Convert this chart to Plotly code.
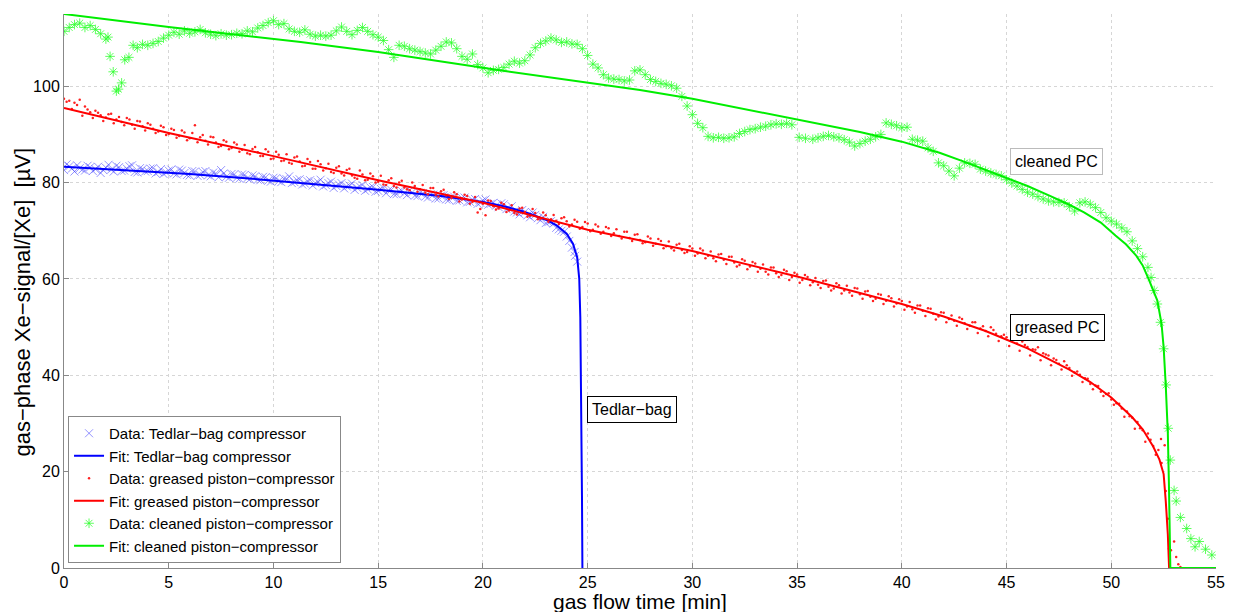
import plotly.graph_objects as go

# ---------------- data ----------------
tedlar_t = [0, 0.25, 0.5, 0.75, 1.0, 1.25, 1.5, 1.75, 2.0, 2.25, 2.5, 2.75, 3.0, 3.25, 3.5, 3.75,
            4.0, 4.25, 4.5, 4.75, 5.0, 5.25, 5.5, 5.75, 6.0, 6.25, 6.5, 6.75, 7.0, 7.25, 7.5, 7.75,
            8.0, 8.25, 8.5, 8.75, 9.0, 9.25, 9.5, 9.75, 10.0, 10.25, 10.5, 10.75, 11.0, 11.25, 11.5, 11.75,
            12.0, 12.25, 12.5, 12.75, 13.0, 13.25, 13.5, 13.75, 14.0, 14.25, 14.5, 14.75, 15.0, 15.25, 15.5, 15.75,
            16.0, 16.25, 16.5, 16.75, 17.0, 17.25, 17.5, 17.75, 18.0, 18.25, 18.5, 18.75, 19.0, 19.25, 19.5, 19.75,
            20.0, 20.25, 20.5, 20.75, 21.0, 21.25, 21.5, 21.75, 22.0, 22.25, 22.5, 22.75, 23.0, 23.25, 23.5, 23.75,
            24.0, 24.25, 24.4, 24.5]
tedlar_v = [82.6, 83.4, 82.3, 83.0, 82.5, 83.2, 82.8, 82.0, 83.1, 82.7, 83.5, 82.4, 82.9, 83.6, 82.1, 82.8,
            82.4, 83.0, 82.2, 81.8, 82.5, 81.9, 82.7, 82.0, 81.5, 82.3, 81.6, 82.4, 81.3, 81.9, 82.6, 81.2,
            81.8, 81.0, 81.7, 80.9, 81.5, 80.6, 81.2, 80.4, 81.0, 80.3, 80.8, 81.3, 80.1, 80.7, 79.8, 80.5,
            79.9, 80.6, 79.5, 80.2, 79.3, 79.9, 79.2, 79.8, 78.9, 79.5, 78.6, 79.1, 78.3, 78.9, 78.4, 77.6,
            78.2, 77.8, 78.4, 77.3, 77.9, 77.1, 77.6, 76.7, 77.3, 76.5, 77.0, 76.2, 76.8, 75.9, 76.4, 75.6,
            76.3, 75.4, 75.8, 74.9, 75.5, 74.6, 74.0, 73.4, 73.9, 72.8, 73.3, 72.2, 71.6, 72.0, 70.6, 70.0,
            68.8, 66.5, 64.8, 63.6]
tedlar_t_b = [0.125, 0.375, 0.625, 0.875, 1.125, 1.375, 1.625, 1.875, 2.125, 2.375, 2.625, 2.875, 3.125,
              3.375, 3.625, 3.875, 4.125, 4.375, 4.625, 4.875, 5.125, 5.375, 5.625, 5.875, 6.125, 6.375,
              6.625, 6.875, 7.125, 7.375, 7.625, 7.875, 8.125, 8.375, 8.625, 8.875, 9.125, 9.375, 9.625,
              9.875, 10.125, 10.375, 10.625, 10.875, 11.125, 11.375, 11.625, 11.875, 12.125, 12.375, 12.625,
              12.875, 13.125, 13.375, 13.625, 13.875, 14.125, 14.375, 14.625, 14.875, 15.125, 15.375, 15.625,
              15.875, 16.125, 16.375, 16.625, 16.875, 17.125, 17.375, 17.625, 17.875, 18.125, 18.375, 18.625,
              18.875, 19.125, 19.375, 19.625, 19.875, 20.125, 20.375, 20.625, 20.875, 21.125, 21.375, 21.625,
              21.875, 22.125, 22.375, 22.625, 22.875, 23.125, 23.375, 23.625, 23.875, 24.125, 24.375]
tedlar_v_b = [83.8, 82.9, 83.6, 82.7, 83.5, 82.4, 83.3, 82.6, 83.7, 82.3, 83.2, 82.5, 83.4, 82.2, 83.0, 82.3,
              82.9, 81.9, 82.8, 82.1, 82.7, 81.7, 82.5, 81.6, 82.4, 81.4, 82.2, 81.5, 82.1, 81.1, 81.9, 81.0,
              81.7, 80.8, 81.6, 80.7, 81.3, 80.5, 81.1, 80.2, 80.9, 80.1, 80.7, 79.9, 80.5, 79.6, 80.3, 79.4,
              80.1, 79.2, 79.9, 78.9, 79.6, 78.8, 79.4, 78.5, 79.2, 78.3, 79.0, 78.1, 78.7, 77.8, 78.5, 77.6,
              78.3, 77.4, 78.0, 77.2, 77.8, 76.9, 77.5, 76.7, 77.4, 76.4, 77.1, 76.3, 76.9, 76.0, 76.6, 75.8,
              76.5, 75.6, 75.2, 75.7, 74.5, 75.1, 73.8, 74.3, 73.2, 73.8, 72.6, 72.9, 71.8, 71.5, 70.3, 69.8,
              67.9, 65.6]

tedlar_fit_t = [0, 3, 6, 9, 12, 15, 18, 20, 21, 22, 23, 23.5, 24, 24.3, 24.5, 24.6, 24.65, 24.7, 24.73, 24.75]
tedlar_fit_v = [83.3, 82.6, 81.8, 80.8, 79.7, 78.5, 77.2, 76.0, 75.1, 73.9, 72.3, 71.2, 69.4, 67.3, 64.5,
                60.0, 52.0, 35.0, 15.0, 0.0]

greased_t = [0, 0.25, 0.5, 0.75, 1, 1.25, 1.5, 1.75, 2, 2.25, 2.5, 2.75, 3, 3.25, 3.5, 3.75, 4, 4.25, 4.5, 4.75,
             5, 5.25, 5.5, 5.75, 6, 6.25, 6.5, 6.75, 7, 7.25, 7.5, 7.75, 8, 8.25, 8.5, 8.75, 9, 9.25, 9.5, 9.75,
             10, 10.25, 10.5, 10.75, 11, 11.25, 11.5, 11.75, 12, 12.25, 12.5, 12.75, 13, 13.25, 13.5, 13.75,
             14, 14.25, 14.5, 14.75, 15, 15.25, 15.5, 15.75, 16, 16.25, 16.5, 16.75, 17, 17.25, 17.5, 17.75,
             18, 18.25, 18.5, 18.75, 19, 19.25, 19.5, 19.75, 20, 20.25, 20.5, 20.75, 21, 21.25, 21.5, 21.75,
             22, 22.25, 22.5, 22.75, 23, 23.25, 23.5, 23.75, 24, 24.25, 24.5, 24.75, 25, 25.25, 25.5, 25.75,
             26, 26.25, 26.5, 26.75, 27, 27.25, 27.5, 27.75, 28, 28.25, 28.5, 28.75, 29, 29.25, 29.5, 29.75,
             30, 30.25, 30.5, 30.75, 31, 31.25, 31.5, 31.75, 32, 32.25, 32.5, 32.75, 33, 33.25, 33.5, 33.75,
             34, 34.25, 34.5, 34.75, 35, 35.25, 35.5, 35.75, 36, 36.25, 36.5, 36.75, 37, 37.25, 37.5, 37.75,
             38, 38.25, 38.5, 38.75, 39, 39.25, 39.5, 39.75, 40, 40.25, 40.5, 40.75, 41, 41.25, 41.5, 41.75,
             42, 42.25, 42.5, 42.75, 43, 43.25, 43.5, 43.75, 44, 44.25, 44.5, 44.75, 45, 45.25, 45.5, 45.75,
             46, 46.25, 46.5, 46.75, 47, 47.25, 47.5, 47.75, 48, 48.25, 48.5, 48.75, 49, 49.25, 49.5, 49.75,
             50, 50.25, 50.5, 50.75, 51, 51.25, 51.5, 51.75, 52, 52.25, 52.4, 52.55, 52.6, 52.7, 52.75, 52.85,
             53.0, 53.1, 53.2, 53.3]
greased_v = [97.4, 97.0, 96.6, 97.2, 95.8, 94.6, 94.9, 94.0, 93.5, 94.3, 93.1, 92.6, 93.4, 92.0, 92.8, 91.7,
             92.3, 91.2, 90.6, 91.5, 90.1, 90.9, 89.7, 90.4, 89.2, 91.9, 89.4, 88.7, 89.5, 88.3, 87.6, 88.5,
             87.2, 87.9, 86.8, 86.1, 87.0, 86.3, 85.5, 86.4, 85.0, 85.8, 84.6, 84.1, 85.2, 84.4, 83.5, 84.3,
             82.9, 83.8, 83.0, 82.2, 83.1, 81.9, 82.6, 81.5, 80.8, 81.7, 80.6, 81.3, 80.2, 79.6, 80.5, 79.3,
             80.0, 79.0, 78.4, 79.3, 78.6, 77.9, 78.9, 77.5, 78.2, 77.3, 76.8, 77.6, 76.5, 77.2, 76.0, 73.8,
             75.6, 76.3, 75.1, 74.6, 75.5, 74.2, 73.7, 74.6, 73.9, 73.1, 73.7, 72.5, 73.2, 72.4, 72.1, 72.6,
             72.0, 71.3, 71.9, 70.8, 71.5, 70.2, 70.9, 69.8, 70.5, 69.5, 68.9, 69.8, 68.5, 69.2, 68.1, 67.6,
             68.4, 67.3, 67.9, 66.8, 66.4, 67.1, 66.0, 65.6, 66.3, 65.3, 65.9, 64.8, 64.3, 65.1, 64.0, 64.6,
             63.4, 62.9, 63.8, 62.6, 63.2, 62.1, 61.5, 62.4, 61.2, 60.8, 61.6, 60.4, 60.9, 59.8, 60.4, 59.3,
             58.8, 59.6, 58.4, 58.0, 58.7, 57.6, 57.2, 58.1, 56.8, 57.4, 56.3, 55.9, 56.7, 55.5, 56.0, 54.9,
             55.4, 54.3, 53.7, 54.5, 53.4, 53.9, 52.8, 52.2, 53.0, 51.7, 51.3, 52.0, 50.8, 50.3, 51.0, 49.7,
             49.2, 50.0, 48.6, 48.1, 47.9, 47.5, 46.6, 47.0, 45.9, 45.4, 45.8, 44.6, 44.1, 43.5, 42.4, 42.9,
             41.5, 40.6, 40.1, 39.4, 38.2, 37.9, 36.6, 36.1, 35.0, 34.2, 33.1, 32.5, 31.2, 30.3, 28.6, 27.9,
             25.3, 24.5, 21.8, 25.5, 16.0, 10.2, 4.0, 3.7, 5.5, 2.3, 0.8, 0.2]
greased_t_b = [0.125, 0.375, 0.625, 0.875, 1.125, 1.375, 1.625, 1.875, 2.125, 2.375, 2.625, 2.875, 3.125,
               3.375, 3.625, 3.875, 4.125, 4.375, 4.625, 4.875, 5.125, 5.375, 5.625, 5.875, 6.125, 6.375,
               6.625, 6.875, 7.125, 7.375, 7.625, 7.875, 8.125, 8.375, 8.625, 8.875, 9.125, 9.375, 9.625,
               9.875, 10.125, 10.375, 10.625, 10.875, 11.125, 11.375, 11.625, 11.875, 12.125, 12.375, 12.625,
               12.875, 13.125, 13.375, 13.625, 13.875, 14.125, 14.375, 14.625, 14.875, 15.125, 15.375, 15.625,
               15.875, 16.125, 16.375, 16.625, 16.875, 17.125, 17.375, 17.625, 17.875, 18.125, 18.375, 18.625,
               18.875, 19.125, 19.375, 19.625, 19.875, 20.125, 20.375, 20.625, 20.875, 21.125, 21.375, 21.625,
               21.875, 22.125, 22.375, 22.625, 22.875, 23.125, 23.375, 23.625, 23.875, 24.125, 24.375, 24.625,
               24.875, 25.125, 25.375, 25.625, 25.875, 26.125, 26.375, 26.625, 26.875, 27.125, 27.375, 27.625,
               27.875, 28.125, 28.375, 28.625, 28.875, 29.125, 29.375, 29.625, 29.875, 30.125, 30.375, 30.625,
               30.875, 31.125, 31.375, 31.625, 31.875, 32.125, 32.375, 32.625, 32.875, 33.125, 33.375, 33.625,
               33.875, 34.125, 34.375, 34.625, 34.875, 35.125, 35.375, 35.625, 35.875, 36.125, 36.375, 36.625,
               36.875, 37.125, 37.375, 37.625, 37.875, 38.125, 38.375, 38.625, 38.875, 39.125, 39.375, 39.625,
               39.875, 40.125, 40.375, 40.625, 40.875, 41.125, 41.375, 41.625, 41.875, 42.125, 42.375, 42.625,
               42.875, 43.125, 43.375, 43.625, 43.875, 44.125, 44.375, 44.625, 44.875, 45.125, 45.375, 45.625,
               45.875, 46.125, 46.375, 46.625, 46.875, 47.125, 47.375, 47.625, 47.875, 48.125, 48.375, 48.625,
               48.875, 49.125, 49.375, 49.625, 49.875, 50.125, 50.375, 50.625, 50.875, 51.125, 51.375, 51.625,
               51.875, 52.125, 52.375]
greased_v_b = [96.8, 95.3, 96.1, 93.9, 95.2, 93.4, 94.5, 92.8, 94.2, 92.3, 93.6, 91.9, 93.1, 91.2, 92.7, 90.8,
               92.0, 90.3, 91.8, 89.9, 91.2, 89.3, 90.8, 88.8, 90.3, 88.4, 89.9, 87.9, 89.4, 87.4, 88.8, 86.9,
               88.3, 86.4, 87.8, 85.9, 87.4, 85.5, 86.9, 84.9, 86.4, 84.5, 85.9, 83.9, 85.4, 83.4, 84.9, 82.9,
               84.5, 82.5, 83.9, 82.0, 83.4, 81.5, 82.9, 81.0, 82.5, 80.5, 81.9, 80.0, 81.4, 79.5, 80.9, 79.0,
               80.4, 78.6, 80.0, 78.1, 79.5, 77.6, 78.9, 77.1, 78.5, 76.6, 78.0, 76.1, 77.5, 75.6, 77.0, 74.5,
               73.2, 76.2, 74.4, 75.8, 73.9, 75.3, 73.4, 74.8, 72.9, 74.5, 72.4, 73.8, 71.9, 73.3, 71.4, 72.8,
               70.9, 72.3, 70.4, 71.8, 69.9, 71.3, 69.4, 70.8, 68.9, 70.3, 68.4, 69.8, 67.9, 69.3, 67.4, 68.8,
               66.9, 68.3, 66.4, 67.8, 65.9, 67.3, 65.4, 66.8, 64.8, 66.3, 64.3, 65.7, 63.7, 65.2, 63.1, 64.6,
               62.6, 64.1, 62.0, 63.5, 61.5, 63.0, 60.9, 62.4, 60.4, 61.9, 59.8, 61.3, 59.2, 60.8, 58.7, 60.2,
               58.1, 59.7, 57.6, 59.1, 57.0, 58.6, 56.5, 58.0, 55.9, 57.5, 55.4, 56.9, 54.8, 56.4, 54.3, 55.8,
               53.6, 55.2, 53.0, 54.5, 52.3, 53.8, 51.6, 53.1, 51.0, 52.4, 50.3, 51.7, 49.6, 51.0, 48.8, 50.2,
               48.1, 49.4, 47.1, 48.4, 46.1, 47.4, 45.1, 46.3, 44.1, 45.3, 43.1, 44.3, 42.1, 43.2, 41.2, 42.1,
               39.9, 40.8, 38.6, 39.3, 37.1, 37.8, 35.7, 36.3, 33.9, 34.1, 31.4, 31.5, 28.9, 29.0, 26.2, 26.6,
               23.5, 26.8]

greased_fit_t = [0, 5, 10, 15, 20, 25, 30, 35, 40, 42, 44, 46, 48, 49, 50, 51, 51.5, 52, 52.3, 52.5, 52.6,
                 52.7, 52.76]
greased_fit_v = [95.5, 90.3, 85.5, 80.5, 75.8, 70.2, 65.8, 60.5, 54.8, 52.2, 49.2, 45.6, 41.2, 38.6, 35.4,
                 31.3, 28.8, 25.2, 22.5, 19.5, 14.0, 7.0, 0.0]

cleaned_t = [0, 0.25, 0.5, 0.75, 1.0, 1.25, 1.5, 1.75, 2.0, 2.1, 2.2, 2.35, 2.5, 2.6, 2.75, 2.9, 3.1, 3.3,
             3.5, 3.75, 4.0, 4.25, 4.5, 4.75, 5.0, 5.25, 5.5, 5.75, 6.0, 6.25, 6.5, 6.75, 7.0, 7.25, 7.5, 7.75,
             8.0, 8.25, 8.5, 8.75, 9.0, 9.25, 9.5, 9.75, 10.0, 10.25, 10.5, 10.75, 11.0, 11.25, 11.5, 11.75,
             12.0, 12.25, 12.5, 12.75, 13.0, 13.25, 13.5, 13.75, 14.0, 14.25, 14.5, 14.75, 15.0, 15.25, 15.5,
             15.75, 16.0, 16.25, 16.5, 16.75, 17.0, 17.25, 17.5, 17.75, 18.0, 18.25, 18.5, 18.75, 19.0, 19.25,
             19.5, 19.75, 20.0, 20.25, 20.5, 20.75, 21.0, 21.25, 21.5, 21.75, 22.0, 22.25, 22.5, 22.75, 23.0,
             23.25, 23.5, 23.75, 24.0, 24.25, 24.5, 24.75, 25.0, 25.25, 25.5, 25.75, 26.0, 26.25, 26.5, 26.75,
             27.0, 27.25, 27.5, 27.75, 28.0, 28.25, 28.5, 28.75, 29.0, 29.25, 29.5, 29.75, 30.0, 30.25, 30.5,
             30.75, 31.0, 31.25, 31.5, 31.75, 32.0, 32.25, 32.5, 32.75, 33.0, 33.25, 33.5, 33.75, 34.0, 34.25,
             34.5, 34.75, 35.1, 35.4, 35.75, 36.0, 36.25, 36.5, 36.75, 37.0, 37.25, 37.5, 37.75, 38.0, 38.25,
             38.5, 38.75, 39.0, 39.25, 39.5, 39.75, 40.0, 40.25, 40.5, 40.75, 41.0, 41.25, 41.5, 41.75, 42.0,
             42.25, 42.5, 42.75, 43.0, 43.25, 43.5, 43.75, 44.0, 44.25, 44.5, 44.75, 45.0, 45.25, 45.5, 45.75,
             46.0, 46.25, 46.5, 46.75, 47.0, 47.25, 47.5, 47.75, 48.0, 48.25, 48.5, 48.75, 49.0, 49.25, 49.5,
             49.75, 50.0, 50.25, 50.5, 50.75, 51.0, 51.25, 51.5, 51.75, 51.9, 52.05, 52.2, 52.35, 52.5, 52.62,
             52.72, 52.82, 53.0, 53.1, 53.3, 53.6, 53.8, 54.0, 54.2, 54.5, 54.8]
cleaned_v = [111.4, 112.2, 112.8, 113.1, 112.2, 112.6, 111.8, 110.9, 109.8, 110.2, 106.2, 103.0, 99.0, 99.4,
             100.7, 105.5, 106.0, 108.5, 108.0, 108.7, 108.5, 108.9, 109.3, 110.0, 110.6, 111.2, 110.8, 111.5,
             111.0, 111.3, 111.8, 111.1, 110.8, 110.5, 110.9, 110.6, 110.7, 111.0, 110.9, 111.5, 111.3, 112.1,
             112.6, 113.2, 113.6, 112.8, 113.0, 111.9, 111.4, 111.2, 111.7, 110.8, 110.4, 110.6, 110.4, 110.6,
             111.5, 112.3, 111.4, 110.7, 111.6, 112.2, 111.4, 110.7, 110.2, 109.5, 107.6, 106.0, 108.5, 108.3,
             107.8, 107.5, 107.2, 106.9, 106.7, 107.5, 108.3, 109.2, 109.0, 107.8, 106.2, 105.6, 106.7, 104.5,
             103.8, 102.8, 103.3, 103.5, 103.9, 104.6, 105.2, 104.8, 105.3, 106.5, 108.0, 108.9, 109.4, 110.0,
             109.6, 109.1, 109.2, 108.8, 108.7, 107.8, 106.4, 104.6, 103.8, 102.4, 101.7, 101.5, 101.4, 101.1,
             101.3, 103.2, 103.4, 102.4, 101.4, 101.0, 100.6, 100.4, 100.1, 99.6, 97.9, 95.9, 94.1, 92.3, 91.4,
             89.6, 89.3, 89.4, 89.2, 89.3, 89.5, 90.2, 90.6, 91.0, 91.2, 91.5, 91.7, 92.0, 92.2, 92.1, 92.3,
             92.0, 89.4, 89.2, 89.0, 89.3, 89.6, 89.8, 89.5, 89.3, 88.9, 88.4, 87.6, 88.1, 88.6, 89.0, 89.5,
             90.0, 92.4, 92.1, 91.8, 91.4, 91.5, 89.0, 88.8, 88.6, 87.2, 86.5, 84.1, 83.5, 82.4, 81.4, 83.0,
             84.1, 84.0, 83.8, 82.8, 82.4, 82.0, 81.7, 81.4, 80.6, 79.9, 79.3, 78.6, 78.0, 77.6, 77.1, 76.6,
             76.2, 76.0, 75.9, 75.8, 75.0, 74.1, 75.8, 76.0, 75.5, 74.8, 73.8, 72.7, 72.0, 71.4, 70.6, 69.8,
             67.9, 66.3, 64.6, 62.4, 60.3, 57.6, 54.8, 51.0, 45.5, 38.0, 29.0, 22.4, 16.1, 13.9, 10.5, 8.2,
             6.1, 4.4, 5.5, 3.9, 2.7]

cleaned_fit_t = [0, 5, 11.3, 15, 20.8, 25, 27.5, 30, 35.1, 38, 40, 41.8, 43, 45, 46, 47.1, 48, 48.7, 49.5,
                 50.2, 50.7, 51.2, 51.5, 51.8, 52.2, 52.4, 52.5, 52.6, 52.7, 52.75, 52.8, 52.82, 55]
cleaned_fit_v = [115.0, 112.3, 109.2, 107.1, 103.3, 100.7, 99.2, 97.4, 93.1, 90.5, 88.5, 86.2, 84.3, 81.0,
                 79.3, 77.2, 75.4, 73.8, 71.7, 69.0, 67.2, 64.8, 62.8, 59.8, 55.5, 50.7, 45.8, 38.0, 28.0,
                 18.0, 7.0, 0.0, 0.0]

x_ticks = [0, 5, 10, 15, 20, 25, 30, 35, 40, 45, 50, 55]
y_ticks = [0, 20, 40, 60, 80, 100]

labels = ["Data: Tedlar\u2212bag compressor", "Fit: Tedlar\u2212bag compressor",
          "Data: greased piston\u2212compressor", "Fit: greased piston\u2212compressor",
          "Data: cleaned piston\u2212compressor", "Fit: cleaned piston\u2212compressor"]

# ---------------- figure ----------------
FONT = "Liberation Sans, Arial, sans-serif"
fig = go.Figure()

fig.add_trace(go.Scatter(x=tedlar_t + tedlar_t_b, y=tedlar_v + tedlar_v_b, mode="markers", name=labels[0],
                         marker=dict(symbol="x-thin-open", size=8, color="rgba(60,60,255,0.55)",
                                     line=dict(width=1, color="rgba(60,60,255,0.55)"))))
fig.add_trace(go.Scatter(x=tedlar_fit_t, y=tedlar_fit_v, mode="lines", name=labels[1],
                         line=dict(color="#0000ff", width=2)))
fig.add_trace(go.Scatter(x=greased_t + greased_t_b, y=greased_v + greased_v_b, mode="markers", name=labels[2],
                         marker=dict(symbol="circle", size=2.5, color="#ff2020")))
fig.add_trace(go.Scatter(x=greased_fit_t, y=greased_fit_v, mode="lines", name=labels[3],
                         line=dict(color="#ff0000", width=2)))
fig.add_trace(go.Scatter(x=cleaned_t, y=cleaned_v, mode="markers", name=labels[4],
                         marker=dict(symbol="asterisk-open", size=8, color="rgba(40,255,40,0.75)",
                                     line=dict(width=1, color="rgba(40,255,40,0.75)"))))
fig.add_trace(go.Scatter(x=cleaned_fit_t, y=cleaned_fit_v, mode="lines", name=labels[5],
                         line=dict(color="#00ee00", width=2)))

axis_common = dict(showgrid=True, gridcolor="#d6d6d6", griddash="dot", gridwidth=1,
                   zeroline=False, showline=True, linecolor="#888888", linewidth=1,
                   ticks="inside", ticklen=5, tickcolor="#888888", automargin=False,
                   tickfont=dict(family=FONT, size=16, color="#000000"), mirror=False)

fig.update_xaxes(range=[0, 55], tickvals=x_ticks, ticktext=[str(v) for v in x_ticks], **axis_common)
fig.update_yaxes(range=[0, 115], tickvals=y_ticks, ticktext=[str(v) for v in y_ticks], **axis_common)

title_font = dict(family=FONT, size=22, color="#000")
fig.add_annotation(xref="paper", yref="paper", x=-0.0356, y=0.481, xanchor="center", yanchor="middle",
                   text="gas\u2212phase Xe\u2212signal/[Xe]  [\u00b5V]", textangle=-90, showarrow=False,
                   font=title_font)
fig.add_annotation(xref="paper", yref="paper", x=0.5, y=-0.0596, xanchor="center", yanchor="middle",
                   text="gas flow time [min]", showarrow=False,
                   font=dict(family=FONT, size=21, color="#000"))

ann_font = dict(family=FONT, size=16, color="#000")
fig.add_annotation(x=27.1, y=32.8, text="Tedlar\u2212bag", showarrow=False, font=ann_font,
                   bordercolor="#000", borderwidth=1, borderpad=4, bgcolor="white")
fig.add_annotation(x=47.45, y=50.0, text="greased PC", showarrow=False, font=ann_font,
                   bordercolor="#000", borderwidth=1, borderpad=4, bgcolor="white")
fig.add_annotation(x=47.4, y=84.4, text="cleaned PC", showarrow=False, font=ann_font,
                   bordercolor="#bbbbbb", borderwidth=1, borderpad=4, bgcolor="white")

fig.update_layout(
    width=1234, height=612,
    margin=dict(l=64, r=18, t=14, b=44),
    paper_bgcolor="white", plot_bgcolor="white",
    font=dict(family=FONT, color="#000"),
    legend=dict(x=0.0035, y=0.009, xanchor="left", yanchor="bottom",
                bgcolor="white", bordercolor="#888888", borderwidth=1,
                font=dict(family=FONT, size=15, color="#000"),
                tracegroupgap=0, itemwidth=30),
    showlegend=True,
)

fig.write_html("out.html", config={"displayModeBar": False},
               post_script="document.body.style.margin='0px';")
